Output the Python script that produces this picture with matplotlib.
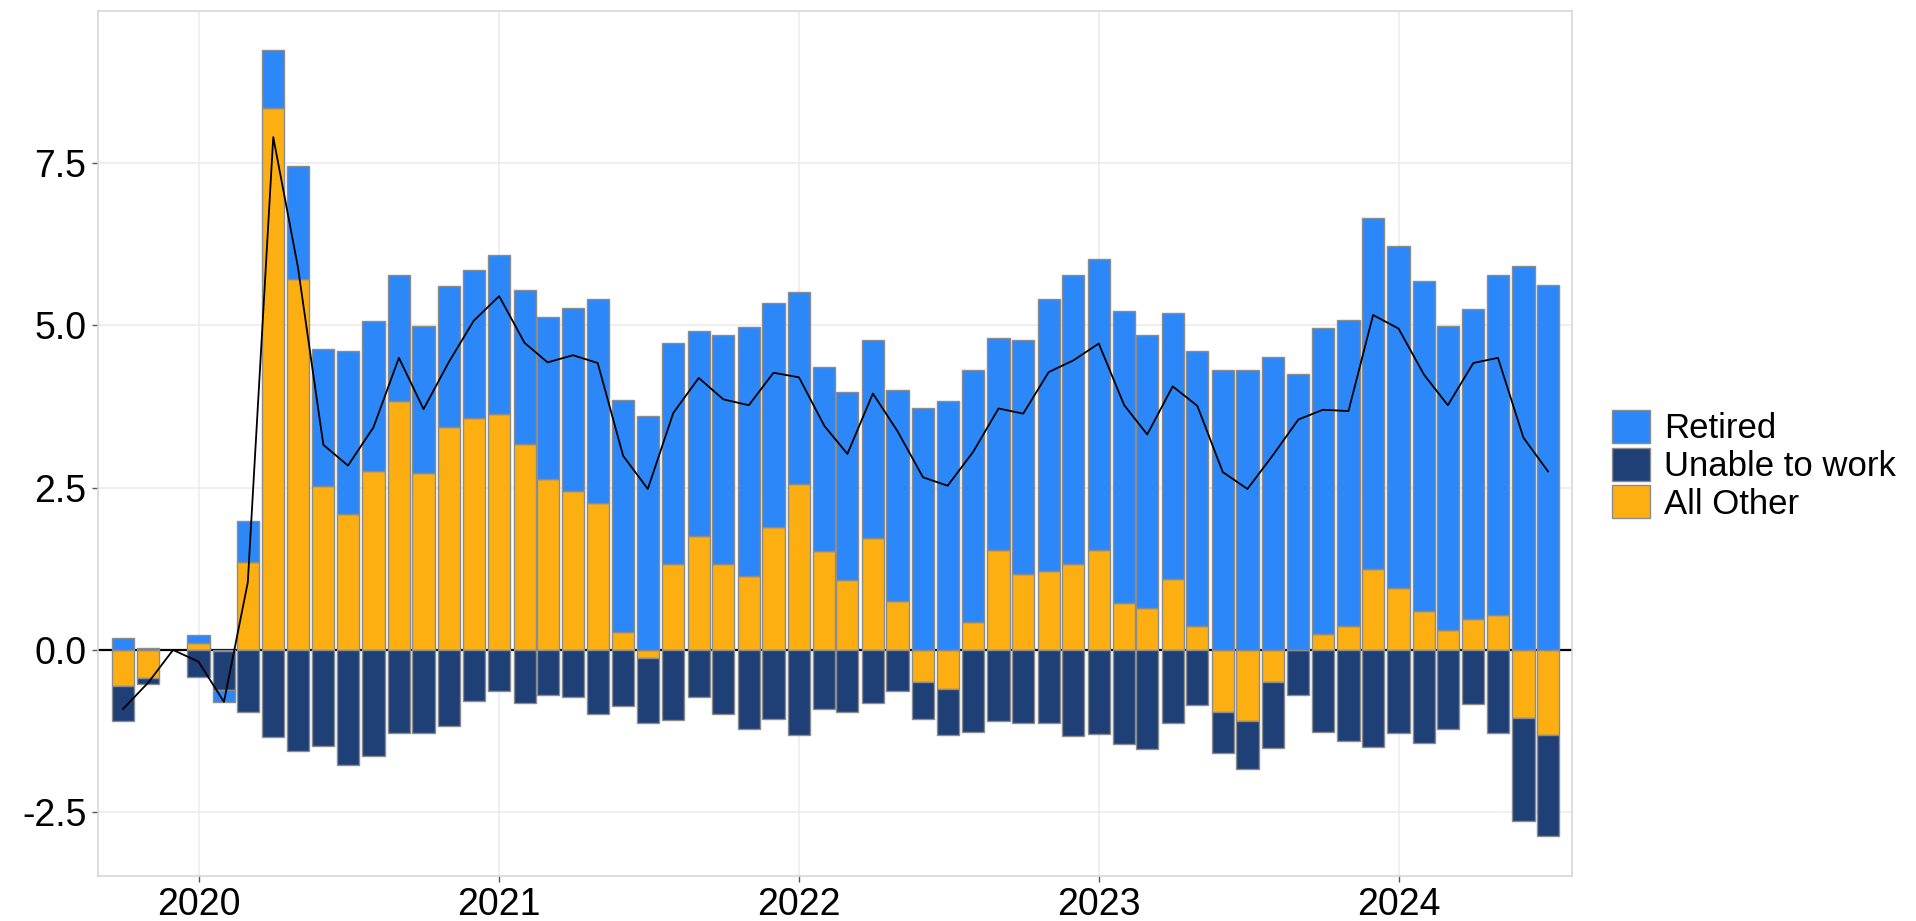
import numpy as np
import pandas as pd
import matplotlib
matplotlib.use("Agg")
import matplotlib.pyplot as plt
import matplotlib.dates as mdates
from matplotlib.patches import Patch

# monthly contributions, Oct 2019 - Jul 2024
months = pd.date_range("2019-10-01", "2024-07-01", freq="MS")

retired = [0.18, 0.03, 0.00,
           0.12, -0.18, 0.63, 0.89, 1.74, 2.12, 2.52, 2.32, 1.94, 2.26, 2.18, 2.28,
           2.45, 2.38, 2.50, 2.82, 3.15, 3.57, 3.61, 3.41, 3.16, 3.53, 3.84, 3.44,
           2.96, 2.83, 2.90, 3.05, 3.25, 3.73, 3.84, 3.89, 3.27, 3.60, 4.19, 4.45,
           4.48, 4.50, 4.21, 4.10, 4.24, 4.32, 4.31, 4.51, 4.25, 4.72, 4.72, 5.40,
           5.27, 5.08, 4.68, 4.78, 5.24, 5.91, 5.62]

unable = [-0.53, -0.10, 0.00,
          -0.41, -0.60, -0.95, -1.34, -1.56, -1.48, -1.77, -1.64, -1.28, -1.28, -1.17, -0.78,
          -0.63, -0.82, -0.70, -0.73, -0.99, -0.86, -1.01, -1.08, -0.72, -0.99, -1.21, -1.07,
          -1.31, -0.91, -0.95, -0.82, -0.63, -0.58, -0.71, -1.27, -1.09, -1.13, -1.13, -1.32,
          -1.30, -1.45, -1.53, -1.13, -0.85, -0.62, -0.74, -1.01, -0.70, -1.26, -1.41, -1.49,
          -1.28, -1.44, -1.22, -0.83, -1.28, -1.59, -1.56]

other = [-0.56, -0.43, 0.00,
         0.11, -0.02, 1.36, 8.35, 5.72, 2.52, 2.09, 2.75, 3.84, 2.73, 3.43, 3.57,
         3.63, 3.17, 2.63, 2.45, 2.26, 0.28, -0.12, 1.32, 1.75, 1.32, 1.14, 1.90,
         2.55, 1.53, 1.07, 1.72, 0.75, -0.49, -0.60, 0.43, 1.54, 1.17, 1.22, 1.33,
         1.54, 0.72, 0.64, 1.09, 0.37, -0.96, -1.09, -0.50, 0.00, 0.24, 0.37, 1.25,
         0.96, 0.60, 0.31, 0.47, 0.54, -1.05, -1.31]

years = [2020, 2021, 2022, 2023, 2024]
yticks = [-2.5, 0.0, 2.5, 5.0, 7.5]

colors = {"Retired": "#2C88F8", "Unable to work": "#1F3F77", "All Other": "#FDAF11"}
edge = "#8c8c8c"

plt.rcParams["font.family"] = ["Liberation Sans", "DejaVu Sans"]
plt.rcParams["axes.unicode_minus"] = False

fig = plt.figure(figsize=(19.16, 9.21), dpi=100)
ax = fig.add_axes([0.0513, 0.0492, 0.7691, 0.9389])

x = mdates.date2num(months)

# stack positives upward and negatives downward, All Other closest to zero
pos_base = np.zeros(len(x))
neg_base = np.zeros(len(x))
for name, vals in [("All Other", other), ("Unable to work", unable), ("Retired", retired)]:
    v = np.array(vals)
    base = np.where(v >= 0, pos_base, neg_base)
    keep = v != 0
    ax.bar(x[keep], v[keep], bottom=base[keep], width=27, color=colors[name],
           edgecolor=edge, linewidth=1.0, zorder=3)
    pos_base += np.clip(v, 0, None)
    neg_base += np.clip(v, None, 0)

net = np.array(retired) + np.array(unable) + np.array(other)
ax.plot(x, net, color="black", lw=1.3, zorder=4)
ax.axhline(0, color="black", lw=1.6, zorder=2)

ax.set_xlim(mdates.date2num(pd.Timestamp("2019-09-01")), mdates.date2num(pd.Timestamp("2024-07-30")))
ax.set_ylim(-3.477, 9.843)

ax.set_xticks(mdates.date2num([pd.Timestamp(f"{y}-01-01") for y in years]))
ax.set_xticklabels([str(y) for y in years])
ax.set_yticks(yticks)
ax.set_yticklabels([f"{v:.1f}" for v in yticks])

ax.grid(color="#EBEBEB", lw=1.1)
ax.set_axisbelow(True)
for s in ax.spines.values():
    s.set_color("#D4D4D4")
    s.set_linewidth(1.1)
ax.tick_params(labelsize=27, length=4.5, width=1, color="#555555", pad=4, labelcolor="black")

handles = [Patch(facecolor=colors[k], edgecolor=edge, linewidth=1.0, label=k)
           for k in ["Retired", "Unable to work", "All Other"]]
fig.legend(handles=handles, loc="upper left", bbox_to_anchor=(1611.7 / 1916, 511 / 921),
           frameon=False, fontsize=25, handlelength=1.1, handleheight=1.1,
           labelspacing=0.06, handletextpad=0.4, borderpad=0, borderaxespad=0)

fig.savefig("out.png", dpi=100)
